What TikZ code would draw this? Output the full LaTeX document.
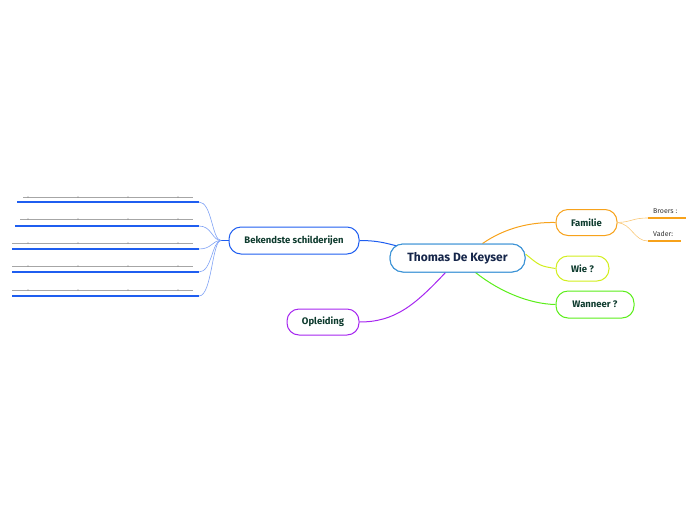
\documentclass[tikz,border=0pt]{standalone}
\usepackage{fontspec}
\setmainfont{Fira Sans}
\definecolor{cRoot}{HTML}{3C93D6}
\definecolor{cBlue}{HTML}{1F5EF0}
\definecolor{cBlueL}{HTML}{7FA2F5}
\definecolor{cOrange}{HTML}{F7A21B}
\definecolor{cOrangeL}{HTML}{F9C878}
\definecolor{cYellow}{HTML}{D2EE1E}
\definecolor{cGreen}{HTML}{5BEE1A}
\definecolor{cPurple}{HTML}{A626F0}
\definecolor{cText}{HTML}{0E3B2E}
\definecolor{cRootText}{HTML}{16264A}
\tikzset{
  topic/.style={draw, fill=white, line width=1pt, rounded corners=12pt, minimum height=26pt,
    inner sep=0pt, font=\fontsize{9.5}{10}\selectfont\bfseries, text=cText},
  roottopic/.style={topic, draw=cRoot, minimum width=135pt, minimum height=28pt, rounded corners=13pt,
    font=\fontsize{12}{13}\selectfont\bfseries, text=cRootText},
  conn/.style={line width=1pt},
  leafconn/.style={line width=0.6pt, cBlueL},
  leafline/.style={line width=1.8pt, cBlue},
  greyline/.style={line width=0.5pt, gray!70},
  sub/.style={font=\fontsize{7}{8}\selectfont, text=black!80, inner sep=1pt}
}
\begin{document}
\begin{tikzpicture}[x=1pt,y=-1pt]
\useasboundingbox (0,0) rectangle (696,520);
% nodes
\node[roottopic] (root) at (457.5,258) {Thomas De Keyser};
\node[topic, draw=cOrange, minimum width=61pt] (fam) at (586.5,222.5) {Familie};
\node[topic, draw=cYellow, minimum width=53pt, minimum height=25pt] (wie) at (582.5,268.5) {Wie ?};
\node[topic, draw=cGreen, minimum width=78pt, minimum height=27pt] (wan) at (595,304.5) {Wanneer ?};
\node[topic, draw=cBlue, minimum width=130pt, minimum height=27pt] (bek) at (294,240.5) {Bekendste schilderijen};
\node[topic, draw=cPurple, minimum width=72pt] (opl) at (323,322) {Opleiding};
% sub topics of Familie
\coordinate (bA) at (648,218);
\coordinate (bB) at (686,218);
\coordinate (vA) at (648,241);
\coordinate (vB) at (681,241);
\node[sub, anchor=south west] (broers) at (652,215) {Broers :};
\node[sub, anchor=south west] (vader) at (652,238) {Vader:};
% connectors root
\draw[conn, cBlue] (bek.east) .. controls (380,240.5) and (388,244) .. ([shift={(10,3)}]root.north west);
\draw[conn, cOrange] ([xshift=25pt]root.north) .. controls (505,228) and (530,222) .. (fam.west);
\draw[conn, cYellow] ([yshift=4pt]root.east) .. controls (540,266) .. (wie.west);
\draw[conn, cGreen] ([xshift=18pt]root.south) .. controls (500,292) and (530,304) .. (wan.west);
\draw[conn, cPurple] ([xshift=-12pt]root.south) .. controls (415,305) and (395,322) .. (opl.east);
% redraw root on top
\node[roottopic] at (457.5,258) {Thomas De Keyser};
% Familie subs
\draw[line width=0.6pt, cOrangeL] (fam.east) .. controls (632,222) and (632,218) .. (bA);
\draw[line width=0.6pt, cOrangeL] (fam.east) .. controls (632,224) and (634,241) .. (vA);
\draw[line width=1.5pt, cOrange] (bA) -- (bB);
\draw[line width=1.5pt, cOrange] (vA) -- (vB);
% Bekendste leaves
\coordinate (jn) at (221,240.5);
\draw[line width=0.8pt, cBlue] (bek.west) -- (jn);
\foreach \i/\yb/\yg/\xb/\xg in {1/202/197/17/23, 2/226/219/15/20, 3/249/243/12/12, 4/272/266/12/12, 5/296/290/12/12}{
  \coordinate (l\i) at (199,\yb);
  \coordinate (s\i) at (\xb,\yb);
  \coordinate (g\i) at (\xg,\yg);
  \coordinate (h\i) at (193,\yg);
  \draw[leafconn] (jn) .. controls (212,240.5) and (212,\yb) .. (l\i);
  \draw[leafline] (s\i) -- (l\i);
  \draw[greyline] (g\i) -- (h\i);
  \foreach \t in {28,78,128,178}{
    \fill[gray] (\t,\yg) circle (0.7pt);
  }
}
\end{tikzpicture}
\end{document}
